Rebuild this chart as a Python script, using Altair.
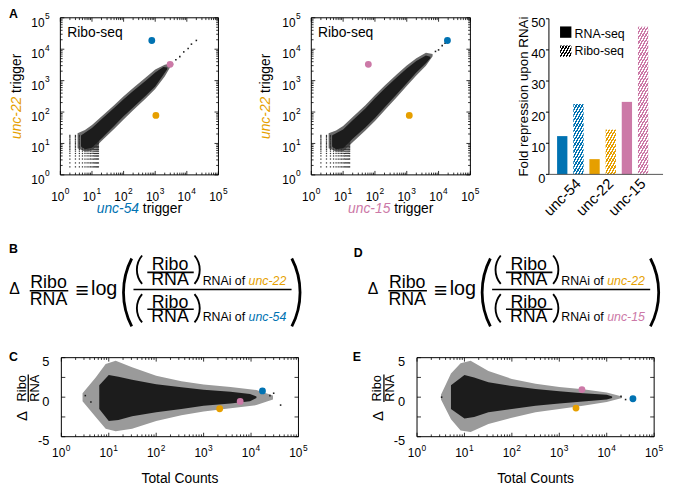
import math
import altair as alt
import pandas as pd

# ---------------- colours / fonts / canvas ----------------
BLUE, ORANGE, PINK = "#0072B2", "#E69F00", "#CC79A7"
INK = "#1c1c1c"
HALO_A = "#6a6a6a"
HALO_C = "#9a9a9a"
FONT = "Liberation Sans"
W, H = 666, 479
OX, OY = 8, 8  # page margin: reference pixel -> chart pixel

genes = ["unc-54", "unc-22", "unc-15"]
gene_colors = [BLUE, ORANGE, PINK]

# ---------------- data ----------------
# Panel A left : x = unc-54 trigger, y = unc-22 trigger (Ribo-seq)
a1_core_x = [4.5, 6, 10, 20, 50, 100, 200, 500, 1000, 1800, 2400]
a1_core_lo = [8, 6.5, 7.3, 14.5, 36, 73, 140, 330, 650, 1500, 2300]
a1_core_hi = [18, 22, 31, 59, 135, 257, 465, 1000, 1820, 2700, 2600]
a1_halo_x = [3.5, 6, 10, 20, 50, 100, 200, 500, 1000, 2000, 3000]
a1_halo_lo = [7, 5.5, 6, 12, 29, 58, 115, 270, 540, 1350, 2700]
a1_halo_hi = [21, 27, 39, 72, 165, 320, 580, 1250, 2250, 3200, 3500]
a1_tail_x = [3500, 4500, 6000, 8000, 11000, 14000, 20000]
a1_tail_y = [3300, 4600, 5800, 8200, 10500, 14500, 19000]
a1_gene_x = [780, 1050, 2960]
a1_gene_y = [19000, 78, 3300]

# Panel A middle : x = unc-15 trigger, y = unc-22 trigger (Ribo-seq)
a2_core_x = [4.5, 6, 10, 20, 50, 100, 200, 500, 1000, 2000, 4000, 5500]
a2_core_lo = [8, 6.5, 7, 14, 32, 65, 140, 380, 830, 1800, 3600, 5200]
a2_core_hi = [18, 21, 28, 55, 130, 275, 550, 1300, 2450, 4200, 6300, 5800]
a2_halo_x = [3.5, 6, 10, 20, 50, 100, 200, 500, 1000, 2000, 4000, 6500]
a2_halo_lo = [7, 5.5, 5.6, 11, 26, 52, 112, 305, 670, 1450, 3000, 6000]
a2_halo_hi = [21, 26, 36, 70, 165, 345, 690, 1620, 3050, 5200, 7700, 7000]
a2_tail_x = [8000, 10000, 13000, 16000]
a2_tail_y = [8500, 9500, 13000, 15500]
a2_gene_x = [19000, 1200, 62]
a2_gene_y = [19000, 78, 3300]

# low-count lattice (discrete counts) seen in both Ribo-seq scatters
lattice_x = [2, 3, 4, 5, 6, 7, 8, 9, 10, 11, 12, 13, 14, 15, 16]
lattice_y = [1.8, 2.4, 3.2, 4, 4.8, 5.7, 6.5, 7.3, 8.1, 9, 10, 11, 12, 13.5, 15, 16.5, 18]

# Panel A right : fold repression upon RNAi
rna_fold = [12.3, 4.9, 23.3]
ribo_fold = [22.6, 14.4, 47.4]

# Panel C : delta Ribo/RNA (unc-22 vs unc-54) against total counts
c_core_x = [6.3, 10, 16, 31, 100, 340, 1000, 3700, 9500, 13000]
c_core_lo = [-1.5, -3.0, -2.9, -2.4, -1.9, -1.5, -1.1, -0.8, -0.5, -0.1]
c_core_hi = [1.5, 2.8, 2.6, 2.2, 1.65, 1.25, 0.95, 0.7, 0.4, 0.1]
c_halo_x = [2.8, 5.3, 8.6, 14, 31, 100, 340, 1000, 3700, 13000, 29000]
c_halo_lo = [-0.5, -2.5, -4.0, -4.3, -4.0, -3.0, -2.3, -1.8, -1.4, -1.0, -0.3]
c_halo_hi = [0.5, 2.5, 4.2, 4.6, 3.8, 2.7, 2.0, 1.6, 1.3, 0.9, 0.2]
c_out_x = [3.2, 4.2, 25000, 30000, 42000]
c_out_y = [0.2, -0.6, 0.2, 0.5, -1.0]
c_gene_x = [17400, 2180, 5900]
c_gene_y = [0.79, -1.46, -0.54]

# Panel E : delta Ribo/RNA (unc-22 vs unc-15) against total counts
e_core_x = [5.2, 10, 16, 32, 100, 316, 1000, 3160, 10000, 13000]
e_core_lo = [-1.5, -2.7, -2.5, -1.9, -1.5, -1.1, -0.8, -0.55, -0.3, -0.1]
e_core_hi = [1.5, 2.8, 2.5, 1.9, 1.4, 1.05, 0.75, 0.5, 0.3, 0.1]
e_halo_x = [3.2, 5.2, 8.3, 13.5, 32, 100, 316, 1000, 3160, 10000, 21000]
e_halo_lo = [-0.3, -2.8, -4.2, -4.4, -3.4, -2.6, -1.9, -1.5, -1.1, -0.6, -0.1]
e_halo_hi = [0.3, 3.0, 4.3, 4.6, 3.3, 2.3, 1.7, 1.3, 1.0, 0.6, 0.1]
e_out_x = [3.3, 20000, 25000]
e_out_y = [0.0, 0.1, -0.3]
e_gene_x = [35700, 2250, 3000]
e_gene_y = [-0.2, -1.38, 0.96]

# ticks
log_major = [1, 10, 100, 1000, 10000, 100000]
log_exp = ["0", "1", "2", "3", "4", "5"]
log_minor = [m * d for d in log_major[:-1] for m in range(2, 10)]
delta_ticks = [-5, -2.5, 0, 2.5, 5]
delta_labels = [-5, 0, 5]
delta_label_text = ["-5", "0", "5"]
bar_ticks = [0, 10, 20, 30, 40, 50]
bar_tick_text = ["0", "10", "20", "30", "40", "50"]

# ---------------- helpers ----------------
ONE = pd.DataFrame({"k": [0]})
gene_scale = alt.Scale(domain=genes, range=gene_colors)


def px(x):
    return x - OX


def py(y):
    return y - OY


def T(s, x, y, size, color="black", align="left", italic=False, bold=False,
      angle=0, baseline="alphabetic"):
    kw = dict(text=s, fontSize=size, color=color, align=align, baseline=baseline, font=FONT)
    if italic:
        kw["fontStyle"] = "italic"
    if bold:
        kw["fontWeight"] = "bold"
    if angle:
        kw["angle"] = angle
    return alt.Chart(ONE).mark_text(**kw).encode(x=alt.value(px(x)), y=alt.value(py(y)))


def HR(x1, x2, y, w=1.5):
    return alt.Chart(ONE).mark_rule(color="black", strokeWidth=w).encode(
        x=alt.value(px(x1)), x2=alt.value(px(x2)), y=alt.value(py(y)))


def VR(x, y1, y2, w=1.3):
    return alt.Chart(ONE).mark_rule(color="black", strokeWidth=w).encode(
        x=alt.value(px(x)), y=alt.value(py(y1)), y2=alt.value(py(y2)))


def paren(edge_x, cy, height, bulge, thick, left=True):
    """thin parenthesis drawn as an arc; edge_x is the outermost ink position"""
    half = height / 2.0
    R = (half * half + bulge * bulge) / (2.0 * bulge)
    a = math.asin(half / R)
    if left:
        cx, mid = edge_x + R, 1.5 * math.pi
    else:
        cx, mid = edge_x - R, 0.5 * math.pi
    return alt.Chart(ONE).mark_arc(radius=R, radius2=R - thick, theta=mid - a, theta2=mid + a,
                                   color="black").encode(x=alt.value(px(cx)), y=alt.value(py(cy)))


def hatch(color, w, h, period=3.0, k=0.577, frac=0.55):
    L = w + k * h
    den = w * w + k * k * h * h
    dx = L * w / den
    dy = k * h * L / den
    n = max(1, int(round(L / period)))
    stops = []
    for i in range(n):
        a, b, c = i / n, (i + frac) / n, (i + 1) / n
        stops += [{"offset": a, "color": color}, {"offset": b, "color": color},
                  {"offset": b, "color": "white"}, {"offset": c, "color": "white"}]
    return {"gradient": "linear", "x1": 0, "y1": 0, "x2": dx, "y2": dy, "stops": stops}


def frame_layers(sx, sy, xdom, ydom, xmaj, xmin, ymaj, ymin, box):
    Lb, Rb, Bb, Tb = box
    out = []
    fr = pd.DataFrame({"x1": [xdom[0]], "x2": [xdom[1]], "y1": [ydom[0]], "y2": [ydom[1]]})
    out.append(alt.Chart(fr).mark_rect(fillOpacity=0, stroke="black", strokeWidth=1).encode(
        x=alt.X("x1:Q", scale=sx, axis=None), x2="x2:Q",
        y=alt.Y("y1:Q", scale=sy, axis=None), y2="y2:Q"))
    for vals, ln in ((xmaj, 4), (xmin, 2.3)):
        if not vals:
            continue
        d = alt.Chart(pd.DataFrame({"v": vals}))
        xe = alt.X("v:Q", scale=sx, axis=None)
        out.append(d.mark_rule(color="black", strokeWidth=0.8).encode(
            x=xe, y=alt.value(Bb), y2=alt.value(Bb - ln)))
        out.append(d.mark_rule(color="black", strokeWidth=0.8).encode(
            x=xe, y=alt.value(Tb), y2=alt.value(Tb + ln)))
    for vals, ln in ((ymaj, 4), (ymin, 2.3)):
        if not vals:
            continue
        d = alt.Chart(pd.DataFrame({"v": vals}))
        ye = alt.Y("v:Q", scale=sy, axis=None)
        out.append(d.mark_rule(color="black", strokeWidth=0.8).encode(
            y=ye, x=alt.value(Lb), x2=alt.value(Lb + ln)))
        out.append(d.mark_rule(color="black", strokeWidth=0.8).encode(
            y=ye, x=alt.value(Rb), x2=alt.value(Rb - ln)))
    return out


def log_xlabels(sx, base_y):
    d = alt.Chart(pd.DataFrame({"v": log_major, "e": log_exp}))
    xe = alt.X("v:Q", scale=sx, axis=None)
    return [
        d.mark_text(text="10", align="right", fontSize=12, font=FONT, color="black", dx=4).encode(
            x=xe, y=alt.value(base_y)),
        d.mark_text(align="left", fontSize=8.5, font=FONT, color="black", dx=4.5).encode(
            x=xe, y=alt.value(base_y - 6), text="e:N"),
    ]


def log_ylabels(sy, right_x):
    d = alt.Chart(pd.DataFrame({"v": log_major, "e": log_exp}))
    ye = alt.Y("v:Q", scale=sy, axis=None)
    return [
        d.mark_text(text="10", align="right", fontSize=12, font=FONT, color="black", dy=5).encode(
            y=ye, x=alt.value(right_x)),
        d.mark_text(align="left", fontSize=8.5, font=FONT, color="black", dy=-1.5).encode(
            y=ye, x=alt.value(right_x + 0.5), text="e:N"),
    ]


def cloud_layers(sx, sy, halo, core, extra_x, extra_y, lattice, halo_color):
    out = []
    out.append(alt.Chart(pd.DataFrame({"x": halo[0], "lo": halo[1], "hi": halo[2]})).mark_area(
        color=halo_color, orient="vertical", opacity=1).encode(
        x=alt.X("x:Q", scale=sx, axis=None), y=alt.Y("lo:Q", scale=sy, axis=None), y2="hi:Q"))
    if lattice:
        lat = pd.DataFrame([(a, b) for a in lattice_x for b in lattice_y], columns=["x", "y"])
        out.append(alt.Chart(lat).mark_square(size=1.6, color="#333333", opacity=1).encode(
            x=alt.X("x:Q", scale=sx, axis=None), y=alt.Y("y:Q", scale=sy, axis=None)))
    out.append(alt.Chart(pd.DataFrame({"x": core[0], "lo": core[1], "hi": core[2]})).mark_area(
        color=INK, orient="vertical", opacity=1).encode(
        x=alt.X("x:Q", scale=sx, axis=None), y=alt.Y("lo:Q", scale=sy, axis=None), y2="hi:Q"))
    out.append(alt.Chart(pd.DataFrame({"x": extra_x, "y": extra_y})).mark_square(
        size=2.5, color=INK, opacity=1).encode(
        x=alt.X("x:Q", scale=sx, axis=None), y=alt.Y("y:Q", scale=sy, axis=None)))
    return out


def gene_points(sx, sy, gx, gy):
    return alt.Chart(pd.DataFrame({"gene": genes, "x": gx, "y": gy})).mark_circle(
        size=48, opacity=1).encode(
        x=alt.X("x:Q", scale=sx, axis=None), y=alt.Y("y:Q", scale=sy, axis=None),
        color=alt.Color("gene:N", scale=gene_scale, legend=None))


def loglog_panel(left, right, core, halo, tx, ty, gx, gy):
    top, bottom = 15, 174
    sx = alt.Scale(type="log", domain=[1, 100000], range=[px(left), px(right)], nice=False)
    sy = alt.Scale(type="log", domain=[1, 100000], range=[py(bottom), py(top)], nice=False)
    layers = cloud_layers(sx, sy, halo, core, tx, ty, True, HALO_A)
    layers += frame_layers(sx, sy, [1, 100000], [1, 100000], log_major, log_minor,
                           log_major, log_minor, (px(left), px(right), py(bottom), py(top)))
    layers += log_xlabels(sx, py(196))
    layers += log_ylabels(sy, px(left) - 16)
    layers.append(gene_points(sx, sy, gx, gy))
    return alt.layer(*layers)


def delta_panel(left, right, core, halo, ox, oy, gx, gy):
    top, bottom = 359, 439
    sx = alt.Scale(type="log", domain=[1, 100000], range=[px(left), px(right)], nice=False)
    sy = alt.Scale(type="linear", domain=[-5, 5], range=[py(bottom), py(top)], nice=False, zero=False)
    layers = cloud_layers(sx, sy, halo, core, ox, oy, False, HALO_C)
    layers += frame_layers(sx, sy, [1, 100000], [-5, 5], log_major, log_minor,
                           delta_ticks, [], (px(left), px(right), py(bottom), py(top)))
    layers += log_xlabels(sx, py(456))
    d = alt.Chart(pd.DataFrame({"v": delta_labels, "s": delta_label_text}))
    layers.append(d.mark_text(align="right", fontSize=13, font=FONT, color="black", dy=4.5).encode(
        y=alt.Y("v:Q", scale=sy, axis=None), x=alt.value(px(left) - 12), text="s:N"))
    layers.append(gene_points(sx, sy, gx, gy))
    return alt.layer(*layers)


# ---------------- panels ----------------
p1 = loglog_panel(61, 221, (a1_core_x, a1_core_lo, a1_core_hi), (a1_halo_x, a1_halo_lo, a1_halo_hi),
                  a1_tail_x, a1_tail_y, a1_gene_x, a1_gene_y)
p2 = loglog_panel(315, 476, (a2_core_x, a2_core_lo, a2_core_hi), (a2_halo_x, a2_halo_lo, a2_halo_hi),
                  a2_tail_x, a2_tail_y, a2_gene_x, a2_gene_y)
pc = delta_panel(62, 302, (c_core_x, c_core_lo, c_core_hi), (c_halo_x, c_halo_lo, c_halo_hi),
                 c_out_x, c_out_y, c_gene_x, c_gene_y)
pe = delta_panel(422, 662, (e_core_x, e_core_lo, e_core_hi), (e_halo_x, e_halo_lo, e_halo_hi),
                 e_out_x, e_out_y, e_gene_x, e_gene_y)

# bar chart
BAR_L, BAR_R, BAR_END, BAR_B, BAR_T = 555.5, 664.3, 671, 173.5, 16
PAD_IN, PAD_OUT = 0.18, 0.2525
bar_x = alt.Scale(domain=genes, range=[px(BAR_L), px(BAR_R)], paddingInner=PAD_IN, paddingOuter=PAD_OUT)
bar_xo = alt.Scale(domain=["RNA-seq", "Ribo-seq"], paddingInner=0.364, paddingOuter=0)
bar_y = alt.Scale(domain=[0, 50], range=[py(BAR_B), py(BAR_T)], nice=False, zero=True)

rna_df = pd.DataFrame({"gene": genes, "m": ["RNA-seq"] * 3, "v": rna_fold})
bar_layers = [alt.Chart(rna_df).mark_bar().encode(
    x=alt.X("gene:N", scale=bar_x, axis=None),
    xOffset=alt.XOffset("m:N", scale=bar_xo),
    y=alt.Y("v:Q", scale=bar_y, axis=None),
    color=alt.Color("gene:N", scale=gene_scale, legend=None))]
px_per_unit = (BAR_B - BAR_T) / 50.0
group_step = (BAR_R - BAR_L) / (3 - PAD_IN + 2 * PAD_OUT)
bw = group_step * (1 - PAD_IN) / (2 - 0.364) * (1 - 0.364)
for g, c, v in zip(genes, gene_colors, ribo_fold):
    dfr = pd.DataFrame({"gene": [g], "m": ["Ribo-seq"], "v": [v]})
    bar_layers.append(alt.Chart(dfr).mark_bar(fill=hatch(c, bw, v * px_per_unit)).encode(
        x=alt.X("gene:N", scale=bar_x, axis=None),
        xOffset=alt.XOffset("m:N", scale=bar_xo),
        y=alt.Y("v:Q", scale=bar_y, axis=None)))
# axis line, baseline, ticks and labels of the bar chart
bar_layers.append(alt.Chart(pd.DataFrame({"a": [0], "b": [50]})).mark_rule(color="black", strokeWidth=1).encode(
    y=alt.Y("a:Q", scale=bar_y, axis=None), y2="b:Q", x=alt.value(px(BAR_L))))
bar_layers.append(alt.Chart(pd.DataFrame({"v": [0]})).mark_rule(color="#555555", strokeWidth=1).encode(
    y=alt.Y("v:Q", scale=bar_y, axis=None), x=alt.value(px(BAR_L)), x2=alt.value(px(BAR_END))))
tick_df = pd.DataFrame({"v": bar_ticks, "s": bar_tick_text})
bar_layers.append(alt.Chart(tick_df).mark_rule(color="black", strokeWidth=1).encode(
    y=alt.Y("v:Q", scale=bar_y, axis=None), x=alt.value(px(BAR_L) - 3), x2=alt.value(px(BAR_L))))
bar_layers.append(alt.Chart(tick_df).mark_text(align="right", fontSize=13, font=FONT, color="black",
                                               dy=4.5).encode(
    y=alt.Y("v:Q", scale=bar_y, axis=None), x=alt.value(px(BAR_L) - 3.5), text="s:N"))
lab_df = pd.DataFrame({"gene": genes, "m": ["Ribo-seq"] * 3})
bar_layers.append(alt.Chart(lab_df).mark_text(align="right", baseline="middle", angle=315, fontSize=15,
                                              font=FONT, color="black").encode(
    x=alt.X("gene:N", scale=bar_x, axis=None), xOffset=alt.XOffset("m:N", scale=bar_xo),
    y=alt.value(py(BAR_B + 7)), text="gene:N"))
pbar = alt.layer(*bar_layers)

legend_layers = [
    alt.Chart(ONE).mark_square(size=132, color="black", opacity=1).encode(
        x=alt.value(px(572.5)), y=alt.value(py(29.5))),
    alt.Chart(ONE).mark_square(size=132, fill=hatch("black", 11.5, 11.5, period=3.0), opacity=1).encode(
        x=alt.value(px(572.5)), y=alt.value(py(48.8))),
    T("RNA-seq", 581.5, 35, 12.5),
    T("Ribo-seq", 581.5, 52.5, 12.5),
    T("Fold repression upon RNAi", 534, (BAR_B + BAR_T) / 2, 13.5, align="center", angle=270),
]

# ---------------- text annotations ----------------
ann = []
# panel letters
ann += [T("A", 9, 15, 12.5, bold=True), T("B", 9, 253.5, 12.5, bold=True),
        T("C", 9, 362, 12.5, bold=True), T("D", 358, 256.7, 12.5, bold=True),
        T("E", 357, 362, 12.5, bold=True)]
# Ribo-seq labels in the scatters
ann += [T("Ribo-seq", 68, 34.7, 14), T("Ribo-seq", 321.7, 34.7, 14)]
# axis titles of the scatters (mixed colour / italic)
ann += [T("unc-54", 140.6, 213, 14, color=BLUE, italic=True, align="right"),
        T("trigger", 144.5, 213, 14),
        T("unc-15", 395.0, 213, 14, color=PINK, italic=True, align="right"),
        T("trigger", 398.9, 213, 14)]
for bx in (21.5, 273):
    ann += [T("unc-22", bx, 137.7, 14, color=ORANGE, italic=True, angle=270),
            T("trigger", bx, 91.0, 14, angle=270)]
# C / E axis titles
for sh in (0, 360):
    ann += [T("Total Counts", 182 + sh, 486, 14, align="center"),
            T("\u0394", 22.5 + sh, 418, 15, align="center", angle=270, baseline="middle"),
            T("Ribo", 22 + sh, 390, 13, align="center", angle=270, baseline="middle"),
            VR(28.5 + sh, 376, 404, 1.3),
            T("RNA", 35 + sh, 390, 13, align="center", angle=270, baseline="middle")]


def equation(sh, top_gene, top_col, bot_gene, bot_col):
    e = [T("\u0394", 14.5 + sh, 295, 16, align="center"),
         T("Ribo", 49 + sh, 288.3, 18, align="center"),
         HR(30 + sh, 69 + sh, 291.3, 1.6),
         T("RNA", 49 + sh, 306, 18, align="center"),
         T("\u2261", 83 + sh, 298.5, 23, align="center"),
         T("log", 92 + sh, 296, 20),
         paren(123.5 + sh, 293, 70, 8.5, 2.8, left=True),
         HR(135 + sh, 295 + sh, 290, 1.6),
         paren(305 + sh, 293, 70, 8.5, 2.8, left=False)]
    for (yb_r, yb_n, ybar, yc, ysub, gname, gcol) in (
            (270, 285, 272.7, 270, 285, top_gene, top_col),
            (308.3, 323.3, 310, 309, 322, bot_gene, bot_col)):
        e += [paren(137.5 + sh, yc, 30, 5.5, 1.9, left=True),
              T("Ribo", 172 + sh, yb_r, 18, align="center"),
              HR(149 + sh, 196 + sh, ybar, 1.6),
              T("RNA", 172 + sh, yb_n, 18, align="center"),
              paren(203 + sh, yc, 30, 5.5, 1.9, left=False),
              T("RNAi of", 205 + sh, ysub, 12.5),
              T(gname, 251.5 + sh, ysub, 12.5, color=gcol, italic=True)]
    return e


ann += equation(0, "unc-22", ORANGE, "unc-54", BLUE)
ann += equation(363, "unc-22", ORANGE, "unc-15", PINK)

chart = alt.layer(p1, p2, pbar, pc, pe, *legend_layers, *ann).resolve_scale(
    x="independent", y="independent").properties(
    width=W, height=H, padding=0, autosize=alt.AutoSizeParams(type="none")).configure_view(
    strokeWidth=0)

chart.save("out.html", embed_options={"renderer": "svg", "actions": False})
